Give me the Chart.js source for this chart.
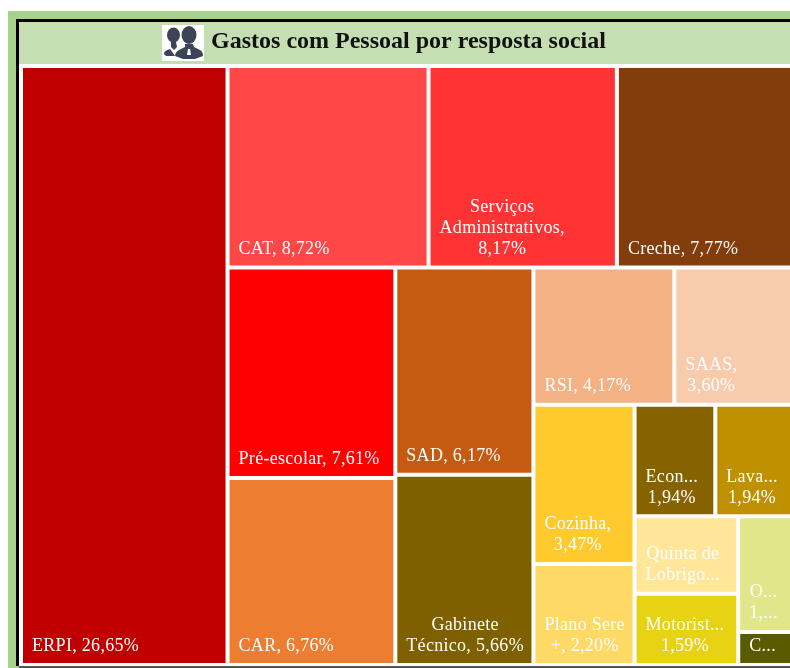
<!DOCTYPE html>
<html><head><meta charset="utf-8">
<script src="https://cdn.jsdelivr.net/npm/chart.js@4"></script>
<style>
html,body{margin:0;padding:0;background:#fff;overflow:hidden;width:790px;height:668px}
#frame{position:absolute;left:0;top:0;width:790px;height:668px;overflow:hidden;filter:blur(.45px)}
#green{position:absolute;left:8px;top:11px;width:800px;height:670px;background:#A9D18E}
#inner{position:absolute;left:16px;top:19px;width:800px;height:647px;border-left:3px solid #000;border-top:3px solid #000;background:#fff;box-sizing:border-box}
#under{position:absolute;left:19px;top:666px;width:790px;height:2px;background:#555}
#band{position:absolute;left:19px;top:22px;width:790px;height:42px;background:#C6DFB2}
#icon{position:absolute;left:162px;top:25px;width:42px;height:36px;background:#fff}
canvas{position:absolute;left:21px;top:23px}
</style></head>
<body>
<div id="frame">
<div id="green"></div><div id="inner"></div><div id="under"></div><div id="band"></div>
<svg id="icon" viewBox="0 0 42 36"><g fill="#3D4458">
<ellipse cx="11.5" cy="10" rx="6.5" ry="7.5"/><path d="M9 17h5l1 5-3 3-3-3zM2 29c0-3 3-4 6-5l3 4 2 3H4z"/>
<ellipse cx="27" cy="10" rx="7.5" ry="9"/><path d="M23 19h8l1 3 6 3c2 1 3 3 3 6l-8 3H21l-8-3c0-3 2-5 4-6l6-3z"/></g>
<path d="M26 24h2l1 6h-4z" fill="#fff"/></svg>
<canvas id="c" width="775" height="642"></canvas>
</div>
<script>
const categories=["ERPI","CAT","Serviços Administrativos","Creche","Pré-escolar","CAR","SAD","Gabinete Técnico","RSI","SAAS","Cozinha","Plano Sere +","Economato","Lavandaria","Quinta de Lobrigo","Motoristas","Outros","Condomínio"];
const values=[26.65,8.72,8.17,7.77,7.61,6.76,6.17,5.66,4.17,3.60,3.47,2.20,1.94,1.94,1.73,1.59,1.44,0.41];
const colors=["#C00000","#FF4747","#FF3333","#833C0B","#FF0000","#ED7D31","#C55A11","#7F6000","#F4B183","#F8CBAD","#FFCA2E","#FFD966","#876300","#BF9000","#FFE699","#E8D214","#E2E68A","#5A5A00"];
const shownLabels=[["ERPI, 26,65%"],["CAT, 8,72%"],["Serviços","Administrativos,","8,17%"],["Creche, 7,77%"],["Pré-escolar, 7,61%"],["CAR, 6,76%"],["SAD, 6,17%"],["Gabinete","Técnico, 5,66%"],["RSI, 4,17%"],["SAAS,","3,60%"],["Cozinha,","3,47%"],["Plano Sere","+, 2,20%"],["Econ...","1,94%"],["Lava...","1,94%"],["Quinta de","Lobrigo..."],["Motorist...","1,59%"],["O...","1,..."],["C..."]];
const chartTitle="Gastos com Pessoal por resposta social";
// split structure of the treemap: "h" = side by side, "v" = stacked; leaves are indices into values
const tree={d:"h",k:[0,{d:"v",k:[{d:"h",k:[1,2,3]},{d:"h",k:[{d:"v",k:[4,5]},{d:"v",k:[6,7]},{d:"v",k:[{d:"h",k:[8,9]},{d:"h",k:[{d:"v",k:[10,11]},{d:"v",k:[{d:"h",k:[12,13]},{d:"h",k:[{d:"v",k:[14,15]},{d:"v",k:[16,17]}]}]}]}]}]}]}]};
const sum=n=>typeof n==="number"?values[n]:n.k.reduce((a,c)=>a+sum(c),0);
function layout(n,x0,x1,y0,y1,out){
  if(typeof n==="number"){out[n]={x0,x1,y0,y1};return out;}
  const t=sum(n);let p=n.d==="h"?x0:y0;
  n.k.forEach(c=>{const f=sum(c)/t;
    if(n.d==="h"){const w=(x1-x0)*f;layout(c,p,p+w,y0,y1,out);p+=w;}
    else{const h=(y1-y0)*f;layout(c,x0,x1,p,p+h,out);p+=h;}});
  return out;
}
class TreemapController extends Chart.DatasetController{
  update(mode){const m=this._cachedMeta;this.updateElements(m.data,0,m.data.length,mode);}
  updateElements(els,start,count,mode){
    const {xScale:X,yScale:Y}=this._cachedMeta;
    const boxes=layout(tree,X.min,X.max,Y.min,Y.max,[]);
    for(let i=start;i<start+count;i++){
      const b=boxes[i],l=X.getPixelForValue(b.x0),r=X.getPixelForValue(b.x1);
      this.updateElement(els[i],i,{x:(l+r)/2,width:r-l,y:Y.getPixelForValue(b.y0),base:Y.getPixelForValue(b.y1),height:Y.getPixelForValue(b.y1)-Y.getPixelForValue(b.y0),horizontal:false,borderSkipped:{},enableBorderRadius:false,inflateAmount:0,options:this.resolveDataElementOptions(i,mode)},mode);
    }
  }
  draw(){
    const ctx=this.chart.ctx,els=this._cachedMeta.data;
    els.forEach(e=>e.draw(ctx));
    ctx.save();ctx.font='18px "Liberation Serif"';ctx.letterSpacing='.3px';ctx.fillStyle='#fff';ctx.textAlign='center';ctx.textBaseline='middle';
    els.forEach((e,i)=>{
      const lines=shownLabels[i],w=Math.max(...lines.map(s=>ctx.measureText(s).width));
      const left=e.x-e.width/2,bottom=e.base;
      const inset=w+18>e.width?(e.width-w)/2:11;
      lines.forEach((s,j)=>ctx.fillText(s,left+inset+w/2,bottom-18.5-(lines.length-1-j)*21));
    });
    ctx.restore();
  }
}
TreemapController.id='treemap';
TreemapController.defaults={dataElementType:'bar'};
Chart.register(TreemapController);
new Chart(document.getElementById('c'),{
  type:'treemap',
  data:{labels:categories,datasets:[{data:values,backgroundColor:colors,borderColor:'#fff',borderWidth:2,clip:false}]},
  options:{responsive:false,animation:false,events:[],layout:{padding:0},
    scales:{x:{type:'linear',min:0,max:100,display:false},y:{type:'linear',min:0,max:100,reverse:true,display:false}},
    plugins:{legend:{display:false},tooltip:{enabled:false},
      title:{display:true,text:chartTitle,color:'#111',font:{family:'"Liberation Serif"',size:24,weight:'bold',lineHeight:1.2},padding:{top:4,bottom:10.2}}}}
});
</script>
</body></html>
